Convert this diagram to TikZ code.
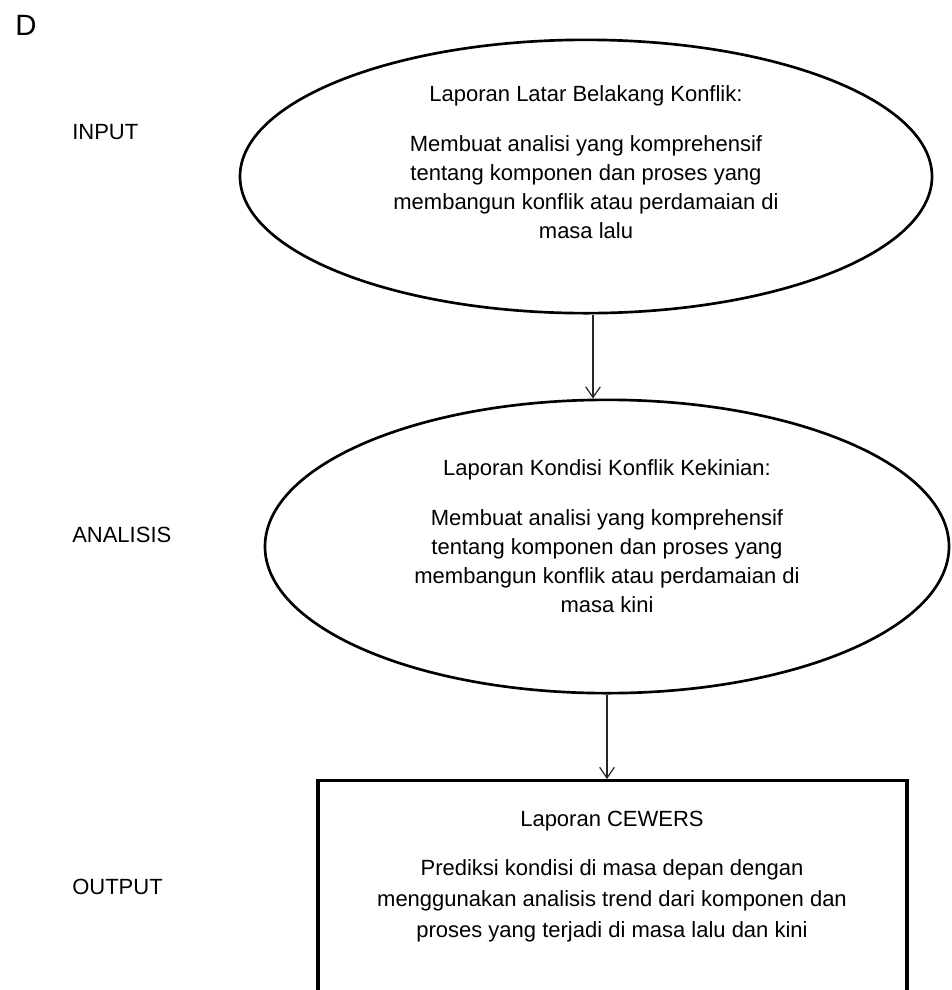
\documentclass[tikz,border=0pt]{standalone}
\usepackage{fontspec}
\setmainfont{Liberation Sans}
\usetikzlibrary{shapes.geometric,arrows.meta}
\begin{document}
\begin{tikzpicture}[x=0.75pt,y=-0.75pt,
  oval/.style={draw=black,line width=2pt,ellipse,inner sep=0pt},
  rbox/.style={draw=black,line width=2.4pt,rectangle,inner sep=0pt,anchor=north},
  body/.style={align=center,font=\fontsize{16.5pt}{21.75pt}\selectfont,inner sep=0pt},
  side/.style={anchor=west,font=\fontsize{16.5pt}{20pt}\selectfont,inner sep=0pt},
  arr/.style={draw=black!85,line width=1pt,-{Straight Barb[length=8pt,width=11pt,line width=0.9pt]}}]
\clip (0,0) rectangle (951,990);
\fill[white] (0,0) rectangle (951,990);

\node[anchor=west,font=\fontsize{22pt}{26pt}\selectfont,inner sep=0pt] (d) at (15,25) {D};
\node[side] (in) at (72,132) {INPUT};
\node[side] (an) at (72,535) {ANALISIS};
\node[side] (out) at (72,887) {OUTPUT};

\node[oval,minimum width=519pt,minimum height=205pt] (e1) at (586,176.5) {};
\node[oval,minimum width=513pt,minimum height=220pt] (e2) at (607,546.5) {};
\node[rbox,minimum width=441.75pt,minimum height=200pt] (bx) at (612.5,779) {};

\node[body] (t1) at (586,162) {Laporan Latar Belakang Konflik:\\[15.75pt]
Membuat analisi yang komprehensif\\
tentang komponen dan proses yang\\
membangun konflik atau perdamaian di\\
masa lalu};
\node[body] (t2) at (607,536) {Laporan Kondisi Konflik Kekinian:\\[15.75pt]
Membuat analisi yang komprehensif\\
tentang komponen dan proses yang\\
membangun konflik atau perdamaian di\\
masa kini};
\node[body,font=\fontsize{16.5pt}{23.25pt}\selectfont] (t3) at (612,877) {Laporan CEWERS\\[13.5pt]
Prediksi kondisi di masa depan dengan\\
menggunakan analisis trend dari komponen dan\\
proses yang terjadi di masa lalu dan kini};

\draw[arr] ([xshift=5.25pt]e1.south) -- ([xshift=-10.5pt]e2.north);
\draw[arr] (e2.south) -- (e2.south |- bx.north);
\end{tikzpicture}
\end{document}
